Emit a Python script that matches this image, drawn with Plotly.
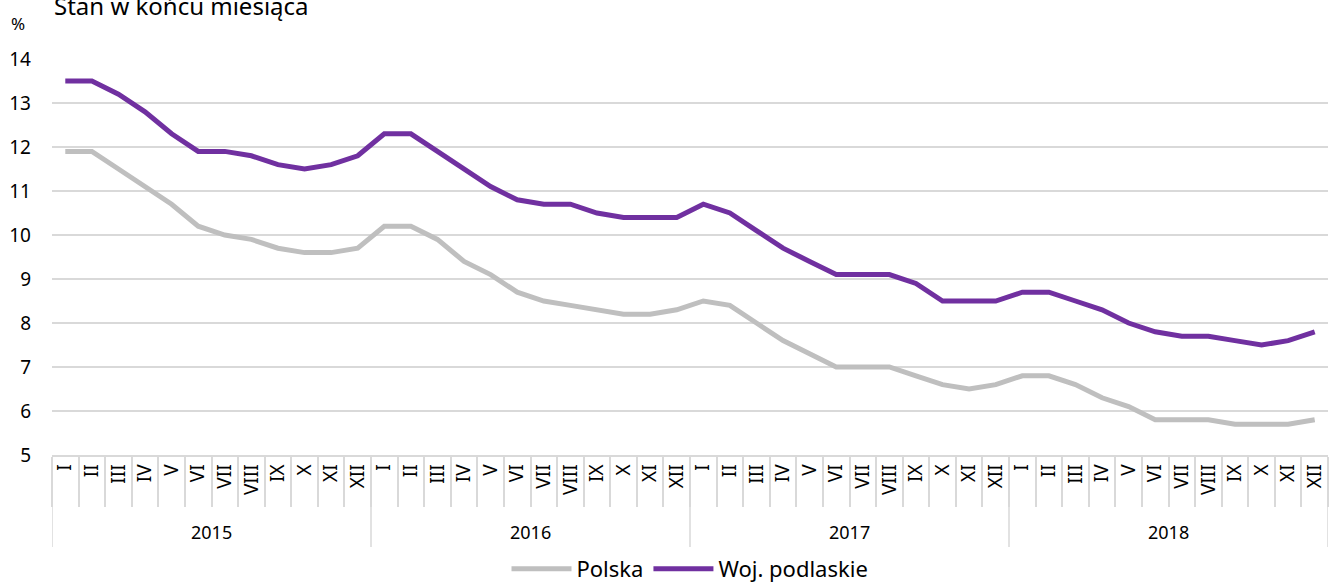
import plotly.graph_objects as go

years = ["2015", "2016", "2017", "2018"]
months = ["I", "II", "III", "IV", "V", "VI", "VII", "VIII", "IX", "X", "XI", "XII"]

polska = [11.9, 11.9, 11.5, 11.1, 10.7, 10.2, 10.0, 9.9, 9.7, 9.6, 9.6, 9.7,
          10.2, 10.2, 9.9, 9.4, 9.1, 8.7, 8.5, 8.4, 8.3, 8.2, 8.2, 8.3,
          8.5, 8.4, 8.0, 7.6, 7.3, 7.0, 7.0, 7.0, 6.8, 6.6, 6.5, 6.6,
          6.8, 6.8, 6.6, 6.3, 6.1, 5.8, 5.8, 5.8, 5.7, 5.7, 5.7, 5.8]
podlaskie = [13.5, 13.5, 13.2, 12.8, 12.3, 11.9, 11.9, 11.8, 11.6, 11.5, 11.6, 11.8,
             12.3, 12.3, 11.9, 11.5, 11.1, 10.8, 10.7, 10.7, 10.5, 10.4, 10.4, 10.4,
             10.7, 10.5, 10.1, 9.7, 9.4, 9.1, 9.1, 9.1, 8.9, 8.5, 8.5, 8.5,
             8.7, 8.7, 8.5, 8.3, 8.0, 7.8, 7.7, 7.7, 7.6, 7.5, 7.6, 7.8]

x_keys = [f"{y} {m}" for y in years for m in months]
x_inner = [m for _ in years for m in months]

FONT = "Noto Sans"
GRID = "#D9D9D9"
PLOT_H = 583 - 59 - 128

fig = go.Figure()
fig.add_trace(go.Scatter(x=x_keys, y=polska, mode="lines", name="Polska",
                         line=dict(color="#BFBFBF", width=5)))
fig.add_trace(go.Scatter(x=x_keys, y=podlaskie, mode="lines", name="Woj. podlaskie",
                         line=dict(color="#7030A0", width=5)))

# year labels and year dividers under the month labels
annotations = []
shapes = []
n = len(months)
for i, yr in enumerate(years):
    annotations.append(dict(text=yr, xref="x", yref="paper", x=i * n + (n - 1) / 2, y=0,
                            yshift=-77, xanchor="center", yanchor="middle", showarrow=False,
                            font=dict(family=FONT, size=18)))
for i in range(len(years) + 1):
    shapes.append(dict(type="line", xref="x", yref="paper", x0=i * n - 0.5, x1=i * n - 0.5,
                       y0=0, y1=-92 / PLOT_H, line=dict(color=GRID, width=1.5)))

annotations += [
    dict(text="%", xref="paper", yref="paper", x=-0.027, y=1.0, xanchor="center",
         yanchor="bottom", yshift=22, showarrow=False, font=dict(family=FONT, size=17)),
    dict(text="Stan w końcu miesiąca", xref="paper", yref="paper", x=0.0, y=1.0,
         xanchor="left", yanchor="bottom", yshift=35, showarrow=False,
         font=dict(family=FONT, size=24)),
]

fig.update_layout(
    width=1330, height=583,
    margin=dict(l=52, r=2, t=59, b=128, autoexpand=False),
    plot_bgcolor="white", paper_bgcolor="white",
    font=dict(family=FONT, size=18, color="#000000"),
    showlegend=True,
    legend=dict(orientation="h", x=0.5, xanchor="center", y=-114 / PLOT_H, yref="paper",
                yanchor="middle", font=dict(family=FONT, size=22), itemwidth=60),
    xaxis=dict(type="category", showgrid=False, tickangle=-90, automargin=False,
               range=[-0.5, len(x_keys) - 0.5],
               tickmode="array", tickvals=x_keys, ticktext=x_inner,
               showline=True, linecolor=GRID, linewidth=1.5,
               ticks="outside", tickson="boundaries", ticklen=50, tickcolor=GRID,
               tickwidth=1.5, tickfont=dict(family=FONT, size=19)),
    yaxis=dict(range=[5, 14], dtick=1, showgrid=True, gridcolor=GRID, gridwidth=1.5,
               zeroline=False, showline=False, ticklabelstandoff=20, automargin=False,
               tickfont=dict(family=FONT, size=19)),
    annotations=annotations,
    shapes=shapes,
)

fig.write_html("out.html", config={"displayModeBar": False},
               post_script="document.body.style.margin='0';")
